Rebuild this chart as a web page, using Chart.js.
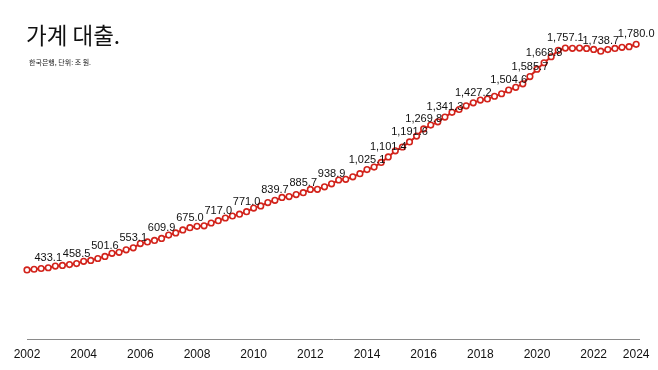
<!DOCTYPE html>
<html>
<head>
<meta charset="utf-8">
<script src="https://cdn.jsdelivr.net/npm/chart.js@4"></script>
<style>
  html, body { margin: 0; padding: 0; background: #fff; }
  #wrap { position: relative; width: 658px; height: 370px; }
  #title { position: absolute; left: 26px; top: 23px; font: 400 22.5px "Noto Sans CJK KR", sans-serif; color: #111; line-height: 1; }
  #sub { position: absolute; left: 29px; top: 59px; font: 400 7px "Noto Sans CJK KR", sans-serif; color: #222; line-height: 1; }
</style>
</head>
<body>
<div id="wrap">
  <canvas id="loanChart" width="658" height="370"></canvas>
  <div id="title">가계 대출.</div>
  <div id="sub">한국은행, 단위: 조 원.</div>
</div>
<script>
// quarterly, 2002 Q4 .. 2024 Q2 (trillion won)
const loans = [
  420.0,
  424.0, 428.5, 433.1, 443.0,
  447.0, 452.0, 458.5, 472.0,
  477.0, 489.0, 501.6, 520.0,
  526.0, 541.0, 553.1, 579.0,
  589.0, 598.0, 609.9, 630.0,
  643.0, 661.0, 675.0, 683.0,
  686.0, 703.0, 717.0, 733.0,
  745.0, 756.0, 771.0, 793.0,
  806.0, 826.0, 839.7, 857.0,
  862.0, 874.0, 885.7, 905.0,
  906.0, 921.0, 938.9, 962.0,
  966.0, 981.0, 1000.0, 1025.1,
  1040.0, 1068.0, 1101.4, 1138.0,
  1161.0, 1191.6, 1227.0, 1269.8,
  1293.0, 1313.0, 1341.3, 1370.0,
  1387.0, 1409.0, 1427.2, 1444.0,
  1451.0, 1467.0, 1482.0, 1504.6,
  1521.0, 1542.0, 1585.7, 1630.0,
  1668.8, 1705.0, 1744.0, 1757.1,
  1756.0, 1757.5, 1755.5, 1749.0,
  1738.7, 1748.5, 1755.0, 1762.0,
  1766.0, 1780.0
];

// points that carry a value label
const labelIdx = [3, 7, 11, 15, 19, 23, 27, 31, 35, 39, 43, 48, 51, 54, 56, 59, 63, 68, 71, 73, 76, 81, 86];

// x-axis ticks (point index -> year label)
const tickIdx = [0, 8, 16, 24, 32, 40, 48, 56, 64, 72, 80, 86];
const tickYears = ['2002', '2004', '2006', '2008', '2010', '2012', '2014', '2016', '2018', '2020', '2022', '2024'];

const red = '#d2231b';

const valueLabels = {
  id: 'valueLabels',
  afterDatasetsDraw(chart) {
    const ctx = chart.ctx;
    const meta = chart.getDatasetMeta(0);
    ctx.save();
    ctx.font = '11px "Liberation Sans", Arial, sans-serif';
    ctx.fillStyle = '#111';
    ctx.textAlign = 'center';
    ctx.textBaseline = 'middle';
    labelIdx.forEach(i => {
      const pt = meta.data[i];
      const txt = loans[i].toLocaleString('en-US', { minimumFractionDigits: 1, maximumFractionDigits: 1 });
      ctx.fillText(txt, pt.x, pt.y - 10);
    });
    ctx.restore();
  }
};

new Chart(document.getElementById('loanChart'), {
  type: 'line',
  data: {
    datasets: [{
      data: loans.map((v, i) => ({ x: i, y: v })),
      borderColor: red,
      borderWidth: 2,
      pointRadius: 2.8,
      pointBorderWidth: 1.6,
      pointBackgroundColor: '#fff',
      pointBorderColor: red,
      tension: 0,
      clip: false
    }]
  },
  options: {
    responsive: false,
    animation: false,
    layout: { padding: { top: 41, left: 27, right: 19, bottom: 0 } },
    plugins: { legend: { display: false }, tooltip: { enabled: false } },
    scales: {
      x: {
        type: 'linear',
        min: 0,
        max: 86.4,
        grid: { display: false, drawTicks: false },
        border: { display: true, color: '#8a8a8a', width: 1 },
        afterBuildTicks: axis => { axis.ticks = tickIdx.map(v => ({ value: v })); },
        ticks: {
          autoSkip: false,
          maxRotation: 0,
          padding: 8,
          color: '#111',
          font: { family: '"Liberation Sans", Arial, sans-serif', size: 12 },
          callback: v => tickYears[tickIdx.indexOf(v)]
        }
      },
      y: {
        display: false,
        min: 0,
        max: 1800
      }
    }
  },
  plugins: [valueLabels]
});
</script>
</body>
</html>
